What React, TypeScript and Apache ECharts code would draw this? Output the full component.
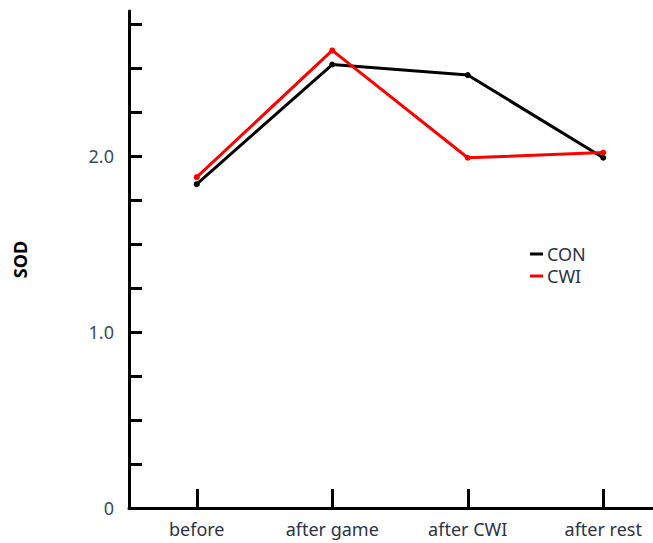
import React, { useEffect, useRef } from "react";
import * as echarts from "echarts";

const categories = ["before", "after game", "after CWI", "after rest"];
const conValues = [1.84, 2.52, 2.46, 1.99];
const cwiValues = [1.88, 2.6, 1.99, 2.02];
const yTickValues = [0, 0.25, 0.5, 0.75, 1, 1.25, 1.5, 1.75, 2, 2.25, 2.5, 2.75];
const yLabelValues = [0, 1, 2];
const yLabelText: Record<string, string> = { "0": "0", "1": "1.0", "2": "2.0" };

export default function App() {
  const ref = useRef<HTMLDivElement>(null);
  useEffect(() => {
    if (!ref.current) return;
    const chart = echarts.init(ref.current, undefined, { renderer: "svg" });
    const font = "'Noto Sans', 'Open Sans', sans-serif";
    chart.setOption({
      animation: false,
      backgroundColor: "#ffffff",
      grid: { left: 129, top: 11, width: 542, height: 497, containLabel: false },
      legend: {
        orient: "vertical",
        left: 525,
        top: 240,
        itemGap: 4,
        itemWidth: 13,
        itemHeight: 3,
        icon: "rect",
        textStyle: { fontFamily: font, fontSize: 18, color: "#2b3346", padding: [0, 0, 0, -1] },
        data: ["CON", "CWI"],
      },
      xAxis: {
        type: "category",
        data: categories,
        boundaryGap: true,
        axisLine: { lineStyle: { color: "#000", width: 3 } },
        axisTick: { show: true, inside: true, length: 19, alignWithLabel: true, lineStyle: { color: "#000", width: 3 } },
        axisLabel: { margin: 12, fontFamily: font, fontSize: 18, color: "#2b3346" },
        splitLine: { show: false },
      },
      yAxis: {
        type: "value",
        min: 0,
        max: 2.824,
        name: "SOD",
        nameLocation: "middle",
        nameGap: 100,
        nameRotate: 90,
        nameTextStyle: { fontFamily: font, fontSize: 18, fontWeight: "bold", color: "#000" },
        axisLine: { show: true, lineStyle: { color: "#000", width: 3 } },
        axisTick: { show: true, inside: true, length: 13, customValues: yTickValues, lineStyle: { color: "#000", width: 3 } },
        axisLabel: {
          customValues: yLabelValues,
          margin: 15,
          fontFamily: font,
          fontSize: 18,
          color: "#3a4a66",
          formatter: (v: number) => yLabelText[String(v)] ?? "",
        },
        splitLine: { show: false },
      },
      series: [
        {
          name: "CON",
          type: "line",
          data: conValues,
          symbol: "circle",
          symbolSize: 6,
          itemStyle: { color: "#000" },
          lineStyle: { color: "#000", width: 3 },
        },
        {
          name: "CWI",
          type: "line",
          data: cwiValues,
          symbol: "circle",
          symbolSize: 6,
          itemStyle: { color: "#ff0000" },
          lineStyle: { color: "#ff0000", width: 3 },
        },
      ],
    });
    return () => chart.dispose();
  }, []);
  return (
    <div style={{ position: "fixed", left: 0, top: 0, width: 653, height: 543, overflow: "hidden" }}>
      <div ref={ref} style={{ width: 700, height: 543 }} />
    </div>
  );
}
